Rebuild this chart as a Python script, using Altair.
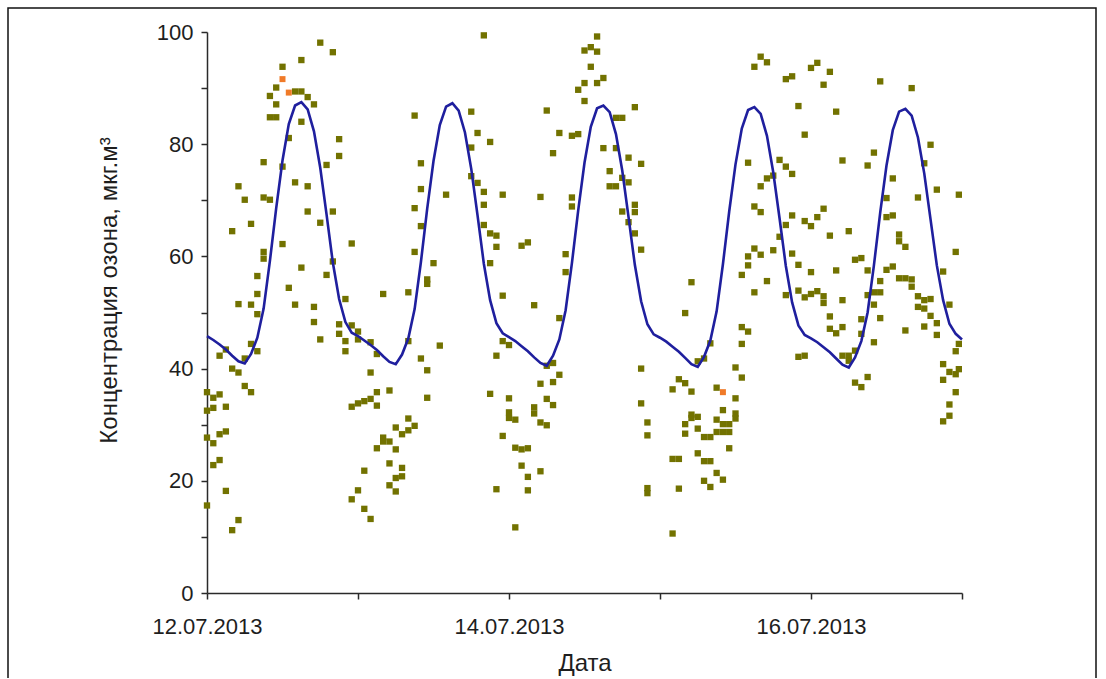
import altair as alt
import pandas as pd

# ---------------- data ----------------
# x = hours since 12.07.2013 00:00, y = ozone concentration
TICK_HOURS = [0, 24, 48, 72, 96, 120]
TICK_LABELS = ["12.07.2013", "", "14.07.2013", "", "16.07.2013", ""]
Y_TICKS = [0, 10, 20, 30, 40, 50, 60, 70, 80, 90, 100]

LINE_DAY1 = [45.8, 45.1, 44.3, 43.4, 42.3, 41.3, 40.9, 42.6, 45.5, 50.7, 59.2, 68.6,
             77.1, 83.6, 86.9, 87.5, 86.2, 82.3, 75.8, 67.5, 58.9, 52.4, 48.3, 46.4]
LINE_DAY2 = [45.8, 45.0, 44.2, 43.3, 42.2, 41.2, 40.8, 42.5, 45.4, 50.6, 59.0, 68.5,
             77.0, 83.4, 86.7, 87.3, 86.0, 82.1, 75.6, 67.3, 58.7, 52.2, 48.1, 46.3]
LINE_DAY3 = [45.6, 44.9, 44.0, 43.1, 42.0, 41.0, 40.5, 42.3, 45.2, 50.4, 58.8, 68.2,
             76.7, 83.1, 86.4, 86.9, 85.7, 81.8, 75.3, 67.0, 58.5, 52.0, 47.9, 46.1]
LINE_DAY4 = [45.5, 44.8, 43.9, 43.0, 41.9, 40.8, 40.3, 42.1, 45.0, 50.2, 58.6, 68.0,
             76.4, 82.8, 86.1, 86.6, 85.4, 81.5, 75.0, 66.8, 58.3, 51.8, 47.7, 46.0]
LINE_DAY5 = [45.4, 44.7, 43.8, 42.9, 41.8, 40.7, 40.2, 42.0, 44.9, 50.0, 58.4, 67.8,
             76.2, 82.5, 85.8, 86.3, 85.1, 81.2, 74.8, 66.6, 58.4, 52.2, 48.0, 46.2]
LINE_END = [45.2]

POINTS_DAY1 = {
    0: [35.8, 32.5, 27.7, 15.6], 1: [34.8, 33.0, 26.7, 22.8], 2: [42.3, 35.4, 28.3, 23.7],
    3: [43.4, 33.2, 28.8, 18.2], 4: [64.5, 40.0, 11.2], 5: [72.5, 51.5, 39.3, 13.0],
    6: [70.1, 41.8, 36.9], 7: [65.8, 51.4, 44.4, 35.8], 8: [56.5, 53.3, 49.7, 43.1],
    9: [76.8, 70.5, 60.8, 59.6], 10: [88.6, 84.8, 70.1], 11: [90.1, 87.1, 84.8],
    12: [93.8, 76.0, 62.2], 13: [81.1, 54.4], 14: [89.4, 73.2, 51.4],
    15: [95.0, 89.4, 84.0, 58.0], 16: [88.4, 72.5, 68.0], 17: [87.1, 51.0, 48.3],
    18: [98.1, 66.0, 45.2], 19: [76.3, 56.7], 20: [96.4, 68.0, 59.1],
    21: [80.9, 77.9, 47.9, 46.2], 22: [52.4, 44.9, 43.1], 23: [62.3, 47.7, 33.2, 16.7],
}
POINTS_DAY2 = {
    24: [46.6, 45.2, 33.8, 18.3], 25: [34.2, 21.8, 15.0], 26: [44.7, 39.3, 34.6, 13.2],
    27: [42.6, 35.8, 33.4, 25.8], 28: [53.3, 27.7, 27.0], 29: [36.1, 27.0, 23.1, 19.2],
    30: [29.5, 25.6, 20.5, 18.1], 31: [28.3, 22.3, 20.8], 32: [53.6, 44.9, 31.1, 29.0],
    33: [85.1, 68.6, 60.8, 29.8], 34: [76.6, 72.0, 65.4, 41.8], 35: [55.9, 55.1, 39.7, 34.8],
    36: [58.8], 37: [44.1], 38: [71.0], 42: [85.8, 79.4, 74.3], 43: [82.0, 73.1],
    44: [99.4, 71.5, 69.2, 65.6], 45: [80.4, 64.1, 58.8, 35.5], 46: [63.7, 61.7, 42.3, 18.5],
    47: [71.0, 53.0, 44.9, 28.0],
}
POINTS_DAY3 = {
    48: [44.2, 34.7, 32.2, 31.2], 49: [30.9, 25.9, 11.7], 50: [61.9, 25.6, 22.7],
    51: [62.5, 25.8, 20.7, 18.3], 52: [51.3, 33.1, 32.0], 53: [70.6, 37.3, 30.4, 21.7],
    54: [86.0, 40.5, 34.6, 29.9], 55: [78.4, 41.0, 37.6, 33.5], 56: [82.0, 49.0, 38.9],
    57: [60.4, 57.2], 58: [81.5, 70.5, 68.9], 59: [89.7, 81.8], 60: [96.7, 90.9, 87.7],
    61: [97.3, 93.8], 62: [99.2, 96.5, 90.9], 63: [91.8, 79.3], 64: [75.2, 72.5],
    65: [84.7, 79.3, 72.5], 66: [84.7, 74.0, 68.0], 67: [77.6, 73.2, 66.1],
    68: [86.6, 69.2, 67.9, 64.1], 69: [76.5, 61.2, 40.0, 33.8], 70: [30.4, 28.1, 18.7, 17.8],
}
POINTS_DAY4 = {
    74: [36.3, 23.9, 10.6], 75: [38.1, 23.9, 18.6], 76: [49.9, 37.4, 30.1, 28.4],
    77: [55.4, 35.9, 31.8, 31.2], 78: [41.3, 31.4, 29.3, 24.9], 79: [41.8, 27.8, 23.5, 20.0],
    80: [44.5, 27.8, 23.5, 18.9], 81: [36.6, 30.9, 28.7, 21.4], 82: [32.6, 30.1, 28.7, 20.2],
    83: [30.1, 28.7, 25.8], 84: [40.2, 34.7, 32.0, 31.1], 85: [56.7, 47.4, 44.4, 38.4],
    86: [76.7, 60.0, 58.4, 46.6], 87: [93.8, 68.9, 61.4, 53.6], 88: [95.6, 72.5, 67.9, 60.3],
    89: [94.6, 73.9, 55.6], 90: [74.4, 61.1], 91: [77.2, 63.5], 92: [91.6, 76.0, 65.6, 53.1],
    93: [92.1, 74.7, 67.3, 60.5], 94: [86.8, 58.5, 53.9, 42.1], 95: [81.7, 66.3, 52.7, 42.3],
}
POINTS_DAY5 = {
    96: [93.6, 65.4, 57.2, 53.3], 97: [94.5, 67.0, 53.8], 98: [90.6, 68.5, 52.9, 51.7],
    99: [92.9, 63.7, 49.3, 47.1], 100: [85.8, 57.5, 46.3], 101: [77.1, 52.2, 47.4, 42.3],
    102: [64.5, 42.3, 41.4], 103: [59.4, 43.2, 37.5], 104: [59.7, 48.8, 46.2, 36.7],
    105: [76.2, 57.5, 53.1, 38.5], 106: [78.5, 53.6, 51.4, 44.7], 107: [91.2, 55.6, 53.6, 49.0],
    108: [70.4, 67.0, 57.6], 109: [73.9, 67.3, 58.2], 110: [63.9, 62.7, 56.1],
    111: [61.7, 56.1, 46.8], 112: [90.0, 55.9, 54.6], 113: [70.5, 52.9, 51.0],
    114: [76.6, 52.2, 50.7, 47.5], 115: [79.9, 52.4, 49.4], 116: [71.9, 48.1, 46.0],
    117: [57.3, 40.8, 38.0, 30.6], 118: [51.4, 39.4, 33.6, 31.6], 119: [60.8, 43.1, 39.0, 35.8],
    119.5: [71.0, 44.4, 39.9],
}
ORANGE_HOURS = [12, 13, 82]
ORANGE_VALUES = [91.6, 89.2, 35.8]

# ---------------- tables ----------------
line_values = LINE_DAY1 + LINE_DAY2 + LINE_DAY3 + LINE_DAY4 + LINE_DAY5 + LINE_END
line_df = pd.DataFrame({"hour": list(range(len(line_values))), "value": line_values})

rows = []
for day in (POINTS_DAY1, POINTS_DAY2, POINTS_DAY3, POINTS_DAY4, POINTS_DAY5):
    for h, vals in day.items():
        for v in vals:
            rows.append({"hour": h, "value": v})
pts_df = pd.DataFrame(rows)
orange_df = pd.DataFrame({"hour": ORANGE_HOURS, "value": ORANGE_VALUES})

FONT = "Liberation Sans"
INK = "#1e1e1e"

label_expr_x = "[" + ",".join("'%s'" % s for s in TICK_LABELS) + "][round(datum.value / 24)]"

x_enc = alt.X(
    "hour:Q",
    scale=alt.Scale(domain=[0, 120], nice=False, zero=False),
    axis=alt.Axis(
        values=TICK_HOURS, labelExpr=label_expr_x, title="Дата",
        grid=False, tickSize=6, tickWidth=1.5, tickColor="#2a2a2a",
        domainColor="#2a2a2a", domainWidth=1.5,
        labelFont=FONT, labelFontSize=22, labelColor=INK, labelPadding=17,
        labelFlush=False, labelOverlap=False,
        titleFont=FONT, titleFontSize=24, titleFontWeight="normal", titleColor=INK,
        titleX=377.5, titleY=77, titleBaseline="alphabetic",
    ),
)
y_enc = alt.Y(
    "value:Q",
    scale=alt.Scale(domain=[0, 100], nice=False),
    axis=alt.Axis(
        values=Y_TICKS, labelExpr="datum.value % 20 === 0 ? datum.label : ''",
        title="Концентрация озона, мкг.м³",
        grid=False, tickSize=6, tickWidth=1.5, tickColor="#2a2a2a",
        domainColor="#2a2a2a", domainWidth=1.5,
        labelFont=FONT, labelFontSize=22, labelColor=INK, labelPadding=8,
        labelOverlap=False,
        titleFont=FONT, titleFontSize=24, titleFontWeight="normal", titleColor=INK,
        titleX=-91, titleY=258, titleBaseline="alphabetic", titleAlign="center",
    ),
)

frame = alt.Chart(pd.DataFrame({"f": [0]})).mark_rect(
    filled=False, stroke="#111111", strokeWidth=1.5
).encode(x=alt.value(-199), x2=alt.value(889), y=alt.value(-24), y2=alt.value(700))

points = alt.Chart(pts_df).mark_square(size=40, color="#727200", opacity=1).encode(
    x=x_enc, y=y_enc
)
orange = alt.Chart(orange_df).mark_square(size=36, color="#f07a28", opacity=1).encode(
    x=x_enc, y=y_enc
)
line = alt.Chart(line_df).mark_line(
    color="#1f1f9e", strokeWidth=2.6, interpolate="linear"
).encode(x=x_enc, y=y_enc)

chart = alt.layer(points, orange, line, frame).properties(
    width=755, height=561,
    autosize=alt.AutoSizeParams(type="none"),
    padding={"left": 207, "top": 32, "right": 144, "bottom": 85},
    background="white",
).configure_view(stroke=None)

chart.save("out.html", embed_options={"renderer": "svg", "actions": False})
